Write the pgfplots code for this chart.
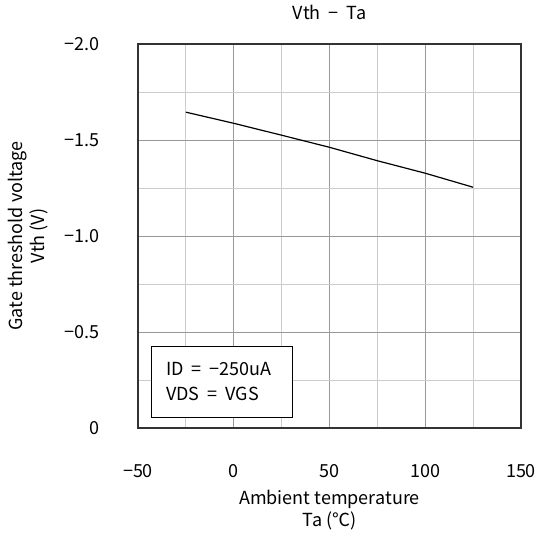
\documentclass[border=0pt]{standalone}
\usepackage{fontspec}
\setmainfont{Noto Sans CJK JP}
\usepackage{pgfplots}
\pgfplotsset{compat=1.18}
\newcommand{\wsp}{\hspace{8pt}}
\begin{document}
\fontsize{18}{22}\selectfont
\begin{tikzpicture}
\path[use as bounding box] (-138pt,-105pt) rectangle (402pt,428pt);
\begin{axis}[
  at={(0pt,0pt)}, anchor=south west,
  scale only axis, width=383pt, height=384pt,
  xmin=-50, xmax=150, ymin=-2, ymax=0,
  y dir=reverse,
  xtick={-50,0,50,100,150},
  xticklabels={−50,0,50,100,150},
  ytick={0,-0.5,-1,-1.5,-2},
  yticklabels={0,−0.5,−1.0,−1.5,−2.0},
  minor x tick num=1, minor y tick num=1,
  major tick length=0pt, minor tick length=0pt,
  grid=both,
  major grid style={draw=black!40, line width=0.9pt},
  minor grid style={draw=black!20, line width=0.9pt},
  axis line style={black!80, line width=1.1pt},
  xticklabel style={anchor=center, yshift=-43pt},
  yticklabel style={anchor=east, xshift=-32pt},
  title={Vth\wsp−\wsp Ta},
  title style={at={(axis description cs:0.5,1)}, anchor=center, yshift=26pt},
  xlabel={Ambient temperature\\Ta (℃)},
  xlabel style={at={(axis description cs:0.5,-0.213)}, anchor=center, align=center},
  ylabel={Gate threshold voltage\\Vth (V)},
  ylabel style={at={(axis description cs:-0.286,0.5)}, anchor=center, align=center},
]
\addplot[black, line width=1.2pt] coordinates {
  (-25,-1.645) (0,-1.587) (25,-1.525) (50,-1.462) (75,-1.392) (100,-1.327) (125,-1.254)
};
\draw[black, line width=0.8pt, fill=white] (axis cs:-42.8,-0.427) rectangle (axis cs:30.4,-0.057);
\node[anchor=west, align=left, inner sep=0pt] at (axis cs:-35.4,-0.24) {ID\wsp=\wsp−250uA\\[3pt]VDS\wsp=\wsp VGS};
\end{axis}
\end{tikzpicture}
\end{document}
